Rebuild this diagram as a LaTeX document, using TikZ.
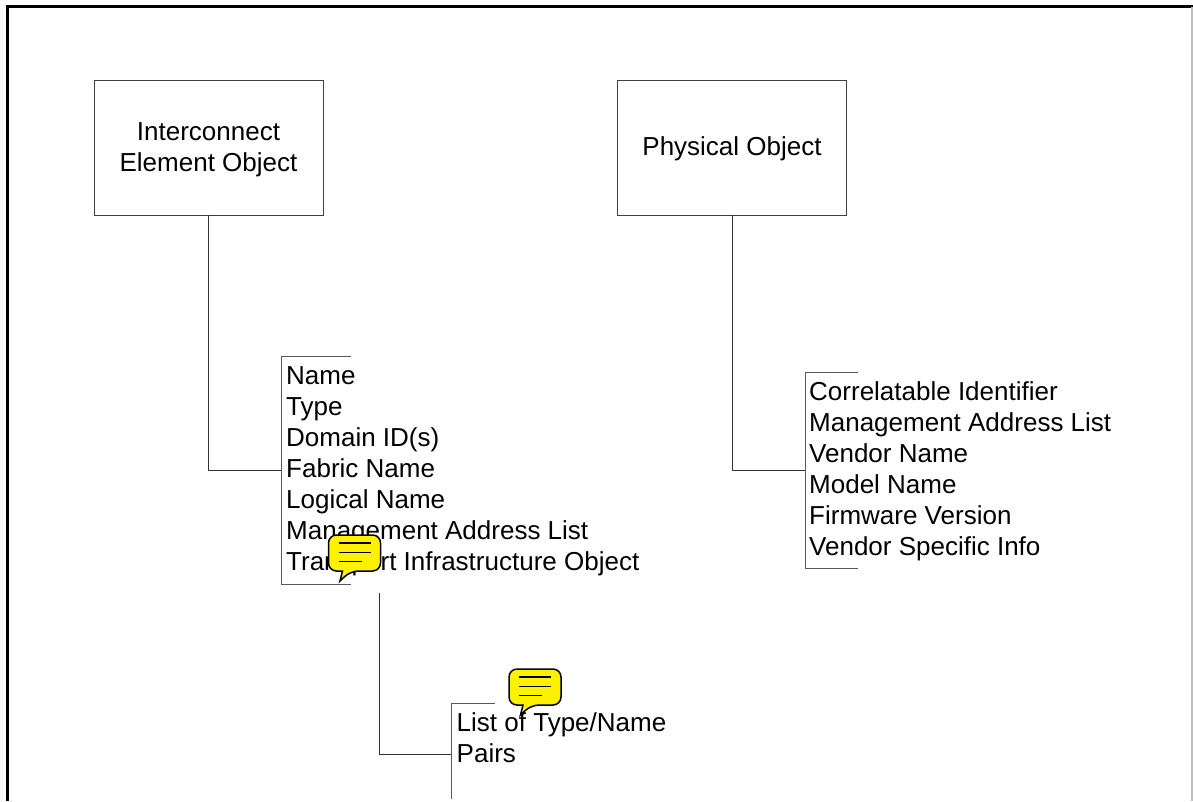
\documentclass[tikz,border=0pt]{standalone}
\usepackage{fontspec}
\setmainfont{Liberation Sans}
\tikzset{
	objbox/.style={draw=black!75,line width=0.9pt,minimum width=229pt,minimum height=135pt,inner sep=0pt,align=center,font=\fontsize{26}{31}\selectfont},
	attrlist/.style={anchor=north west,inner sep=0pt,align=left,font=\fontsize{26}{31}\selectfont},
	link/.style={draw=black!80,line width=0.8pt},
	brace/.style={draw=black!65,line width=1pt},
	note/.pic={
		\draw[fill=yellow,line width=1.5pt,rounded corners=8pt] (0,0) -- (52,0) -- (52,36) -- (22,36) [sharp corners] -- (11.5,46) -- (14,36) [rounded corners=8pt] -- (0,36) -- cycle;
		\draw[line width=1.3pt] (10,8)--(42,8) (10,17.5)--(42,17.5) (10,26.5)--(33,26.5);
	}
}
\begin{document}
\begin{tikzpicture}[x=1pt,y=-1pt]
	\useasboundingbox (0,0) rectangle (1193,801);
	\draw[line width=3pt] (7.5,801)--(7.5,6.5)--(1193,6.5);%frame
	\draw[black!25,line width=1.5pt] (1192.2,6.5)--(1192.2,801);
	\node[objbox] (element) at (208.5,147.5) {Interconnect\\Element Object\\[-31pt]};
	\node[objbox] (physical) at (732,147.5) {Physical Object\\[-29pt]};
	\draw[brace] (351,356)--(281,356)--(281,584)--(351,584);
	\draw[brace] (858,372)--(805,372)--(805,568)--(858,568);
	\draw[brace] (495,703)--(451,703)--(451,799);
	\coordinate (elembrace) at (281,470);
	\coordinate (physbrace) at (805,470);
	\coordinate (pairbrace) at (451,754);
	\coordinate (transport) at (379,593);
	\draw[link] (element.south)|-(elembrace);
	\draw[link] (physical.south)|-(physbrace);
	\draw[link] (transport)|-(pairbrace);
	\node[attrlist] (elemattrs) at (286,366) {Name\\Type\\Domain ID(s)\\Fabric Name\\Logical Name\\Management Address List\\Transport Infrastructure Object};
	\node[attrlist] (physattrs) at (809,381) {Correlatable Identifier\\Management Address List\\Vendor Name\\Model Name\\Firmware Version\\Vendor Specific Info};
	\node[attrlist] (pairattrs) at (456.5,712) {List of Type/Name\\Pairs};
	\pic at (328.5,535) {note};
	\pic at (509,669) {note};
\end{tikzpicture}
\end{document}
